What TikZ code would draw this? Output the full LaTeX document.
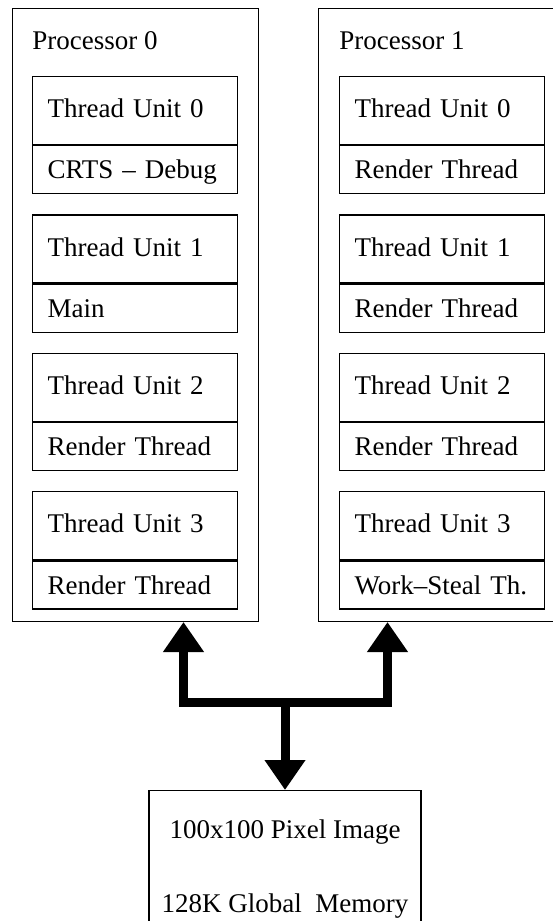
\documentclass[tikz,border=0pt]{standalone}
\usepackage{fontspec}
\setmainfont{Liberation Serif}
\usetikzlibrary{positioning,arrows.meta}
\begin{document}
\begin{tikzpicture}[x=0.5pt, y=-0.5pt,
                    font=\fontsize{13.5pt}{16pt}\selectfont,
                    proc/.style = {draw, line width=0.5pt, anchor=north west, minimum width=123pt, minimum height=306.5pt, inner sep=0pt},
                    title/.style = {anchor=base west, inner sep=0pt},
                    unit/.style = {draw, line width=0.6pt, text width=87.5pt, inner xsep=7.5pt, inner ysep=0pt, align=left},
                    unittop/.style = {unit, text height=20.5pt, text depth=13.5pt},
                    unitbot/.style = {unit, text height=16.5pt, text depth=7.5pt},
                    bus/.style = {line width=4.5pt, -{Triangle[width=19.5pt,length=15pt]}}]
                        \useasboundingbox (0,0) rectangle (552,921);
                        \node[proc] (proc0) at (12,8) {};
                        \node[proc] (proc1) at (318,8) {};
                        \node[title] (title0) at (32,49) {Processor 0};
                        \node[title] (title1) at (339,49) {Processor 1};
                        % processor 0
                        \node[unittop, anchor=north west] (p0u0) at (32,76) {Thread Unit 0};
                        \node[unitbot, below=0pt of p0u0] (p0t0) {CRTS – Debug};
                        \node[unittop, below=10pt of p0t0] (p0u1) {Thread Unit 1};
                        \node[unitbot, below=0pt of p0u1] (p0t1) {Main};
                        \node[unittop, below=10pt of p0t1] (p0u2) {Thread Unit 2};
                        \node[unitbot, below=0pt of p0u2] (p0t2) {Render Thread};
                        \node[unittop, below=10pt of p0t2] (p0u3) {Thread Unit 3};
                        \node[unitbot, below=0pt of p0u3] (p0t3) {Render Thread};
                        % processor 1
                        \node[unittop, anchor=north west] (p1u0) at (339,76) {Thread Unit 0};
                        \node[unitbot, below=0pt of p1u0] (p1t0) {Render Thread};
                        \node[unittop, below=10pt of p1t0] (p1u1) {Thread Unit 1};
                        \node[unitbot, below=0pt of p1u1] (p1t1) {Render Thread};
                        \node[unittop, below=10pt of p1t1] (p1u2) {Thread Unit 2};
                        \node[unitbot, below=0pt of p1u2] (p1t2) {Render Thread};
                        \node[unittop, below=10pt of p1t2] (p1u3) {Thread Unit 3};
                        \node[unitbot, below=0pt of p1u3] (p1t3) {Work–Steal Th.};
                        % global memory
                        \node[draw, line width=0.6pt, anchor=north, minimum width=136pt, minimum height=80pt] (mem) at (285,790) {};
                        \node[anchor=base] (memimg) at (285,838) {100x100 Pixel Image};
                        \node[anchor=base] (memsize) at (285,912) {128K Global\ \ Memory};
                        \coordinate (hub) at (285,702);
                        \draw[bus] (hub) -| ([xshift=24pt]proc0.south);
                        \draw[bus] (hub) -| ([xshift=-27pt]proc1.south);
                        \draw[bus] (hub) -- (mem.north);
                    \end{tikzpicture}
\end{document}
